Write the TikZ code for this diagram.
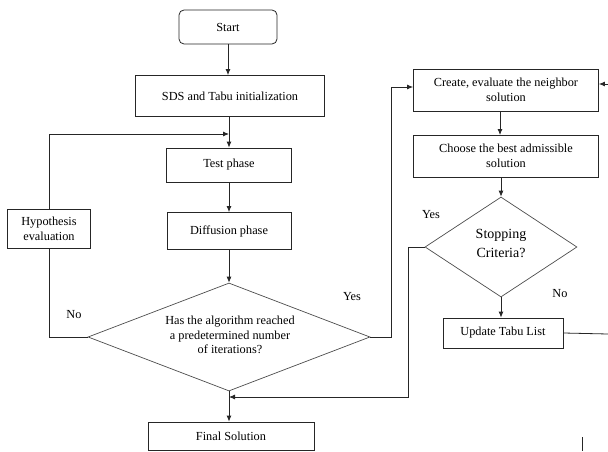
\documentclass[tikz,border=0pt]{standalone}
\usepackage{fontspec}
\setmainfont{Liberation Serif}
\usetikzlibrary{shapes.geometric,arrows.meta}
\begin{document}
\begin{tikzpicture}[x=1pt,y=-1pt,
  every node/.style={font=\fontsize{12.3}{14.5}\selectfont},
  box/.style={draw=black!85, line width=0.8pt, inner sep=0pt, align=center},
  dia/.style={draw=black!70, line width=0.7pt, shape=diamond, inner sep=0pt},
  ln/.style={draw=black!85, line width=0.8pt},
  arr/.style={ln, -{Latex[length=6pt,width=5pt]}},
  lbl/.style={inner sep=0pt},
  txt/.style={inner sep=0pt, align=center}]
\useasboundingbox (0,0) rectangle (608,452);

% left column
\node[box, rounded corners=5pt, minimum width=98pt, minimum height=34pt] (start) at (228,27) {Start};
\node[box, minimum width=189pt, minimum height=41pt] (sds) at (230,96) {SDS and Tabu initialization};
\node[box, minimum width=125pt, minimum height=34pt] (test) at (229,165) {Test phase};
\node[box, minimum width=124pt, minimum height=37pt] (diff) at (229,231) {Diffusion phase};
\node[dia, minimum width=282pt, minimum height=108pt] (d1) at (229,337) {};
\node[txt] (d1t) at (230,335) {Has the algorithm reached\\a predetermined number\\of iterations?};
\node[box, minimum width=83pt, minimum height=39pt] (hyp) at (49,229) {Hypothesis\\evaluation};
\node[box, minimum width=166pt, minimum height=28pt] (final) at (231,436) {Final Solution};

% right column
\node[box, minimum width=185pt, minimum height=42pt] (create) at (506,90) {Create, evaluate the neighbor\\solution};
\node[box, minimum width=185pt, minimum height=42pt] (choose) at (506,156) {Choose the best admissible\\solution};
\node[dia, minimum width=152pt, minimum height=100pt] (d2) at (501,247) {};
\node[txt, font=\fontsize{14}{19}\selectfont] (d2t) at (501,243) {Stopping\\Criteria?};
\node[box, minimum width=120pt, minimum height=30pt] (upd) at (503,333) {Update Tabu List};

% labels
\node[lbl] (no1) at (74,315) {No};
\node[lbl] (yes1) at (352,297) {Yes};
\node[lbl] (yes2) at (431,215) {Yes};
\node[lbl] (no2) at (560,294) {No};

% coordinates
\coordinate (fb) at (229,134);
\coordinate (y1) at (391,337);
\coordinate (y1t) at (391,87);
\coordinate (y2) at (408,247);
\coordinate (y2b) at (408,397);
\coordinate (m) at (229,397);
\coordinate (e1) at (608,334);
\coordinate (e2) at (608,84);
\coordinate (ca) at (500,111);
\coordinate (cb) at (500,135);

% connectors
\draw[arr] (start.south) -- (start.south |- sds.north);
\draw[arr] (sds.south -| test.north) -- (test.north);
\draw[arr] (hyp.north) |- (fb);
\draw[arr] (test) -- (diff);
\draw[arr] (diff.south) -- (d1.north);
\draw[ln] (hyp.south) |- (d1.west);
\draw[arr] (d1.east) -- (y1) -- (y1t) -- (y1t -| create.west);
\draw[arr] (e2) -- (e2 -| create.east);
\draw[arr] (ca) -- (cb);
\draw[arr] (choose.south -| d2.north) -- (d2.north);
\draw[arr] (d2.south) -- (upd.north -| d2.south);
\draw[ln] (upd.east) -- (e1);
\draw[arr] (d2.west) -- (y2) -- (y2b) -- (m);
\draw[arr] (d1.south) -- (final.north -| d1.south);

% stray mark
\draw[ln] (582,437) -- (582,451);
\end{tikzpicture}
\end{document}
